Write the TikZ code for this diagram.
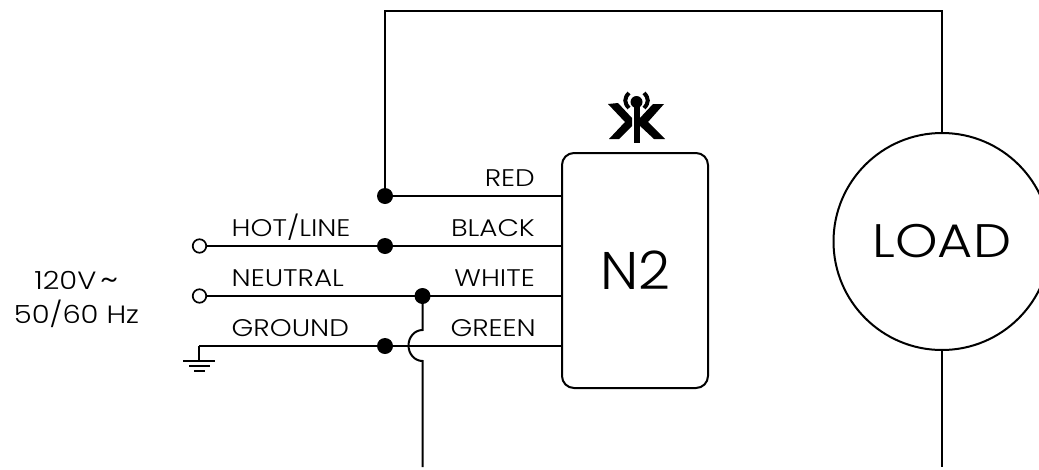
\documentclass[tikz,border=0pt]{standalone}
\usepackage{fontspec}
\setmainfont[FakeStretch=1.16]{Poppins Light}
\newfontfamily\loadfont[FakeStretch=1.15]{Poppins Light}
\newfontfamily\ntwofont[FakeStretch=1.05]{Poppins Light}
\tikzset{
 wire/.style={line width=2pt,black},
 dot/.style={circle,fill=black,inner sep=0pt,minimum size=16pt},
 term/.style={circle,draw=black,line width=1.7pt,fill=white,inner sep=0pt,minimum size=13.5pt},
 lab/.style={font=\fontsize{24}{25}\selectfont,inner sep=0pt},
 labl/.style={lab,anchor=base west},
 labr/.style={lab,anchor=base east},
 volt/.style={font=\fontsize{25}{34}\selectfont,inner sep=0pt,align=center},
 logofill/.style={fill=black}
}
\begin{document}
\begin{tikzpicture}[x=1pt,y=-1pt]
\useasboundingbox (0,0) rectangle (1039,469);
\node[draw=black,line width=2pt,rounded corners=12pt,minimum width=146pt,minimum height=235pt,inner sep=0pt,font=\ntwofont\fontsize{53}{55}\selectfont] (n2) at (635,270.5) {N2};
\node[draw=black,line width=2pt,circle,minimum size=217pt,inner sep=0pt,font=\loadfont\fontsize{47}{50}\selectfont] (load) at (942,241.5) {LOAD};
\node[term] (hot) at (199.5,246) {};
\node[term] (neu) at (199.5,296) {};
\coordinate (gnd) at (199,346);
\node[dot] (dred) at (385,196) {};
\node[dot] (dhot) at (385,246) {};
\node[dot] (dneu) at (422.5,296) {};
\node[dot] (dgnd) at (385,346) {};
\coordinate (e1) at (562,196);
\coordinate (e2) at (562,246);
\coordinate (e3) at (562,296);
\coordinate (e4) at (562,346);
\coordinate (top1) at (385,11);
\coordinate (top2) at (942,11);
\coordinate (bot1) at (422.5,467);
\coordinate (bot2) at (942,467);
\draw[wire] (dred) -- (top1) -- (top2) -- (load.north);
\draw[wire] (load.south) -- (bot2);
\draw[wire] (dred) -- (e1);
\draw[wire] (hot) -- (e2);
\draw[wire] (neu) -- (e3);
\draw[wire] (gnd) -- (e4);
\draw[wire] (dneu) -- (422.5,330) arc (270:90:14 and 15.5) -- (bot1);
\draw[wire] (gnd) -- (199,360);
\draw[wire] (183,360.5) -- (215,360.5);
\draw[wire] (189,366) -- (210,366);
\draw[wire] (194,371) -- (205,371);
\node[labl] at (231.5,236.7) {HOT/LINE};
\node[labl] at (231.5,286.7) {NEUTRAL};
\node[labl] at (231.5,336.7) {GROUND};
\node[labr] at (535,186.7) {RED};
\node[labr] at (535,236.7) {BLACK};
\node[labr] at (535,286.7) {WHITE};
\node[labr] at (536,336.7) {GREEN};
\node[volt] at (76.5,299.5) {120V\,\raisebox{-.05ex}{\fontsize{32}{34}\selectfont\textasciitilde}\\50/60 Hz};
% antenna mark
\fill[logofill] (634,98) rectangle (639.5,143);
\fill[logofill] (608,104) -- (618,103) -- (632,118) -- (632,126) -- (619,139) -- (609,139) -- (625,122) -- cycle;
\fill[logofill] (653,104) -- (664,104) -- (648,122) -- (665,139) -- (654,139) -- (639,125) -- (639,119) -- cycle;
\fill[logofill] (636.5,102) circle (6pt);
\draw[line width=4pt] (629,93) .. controls (624,98) and (624,103) .. (629,108);
\draw[line width=4pt] (644,93) .. controls (649,98) and (649,103) .. (644,108);
\end{tikzpicture}
\end{document}
